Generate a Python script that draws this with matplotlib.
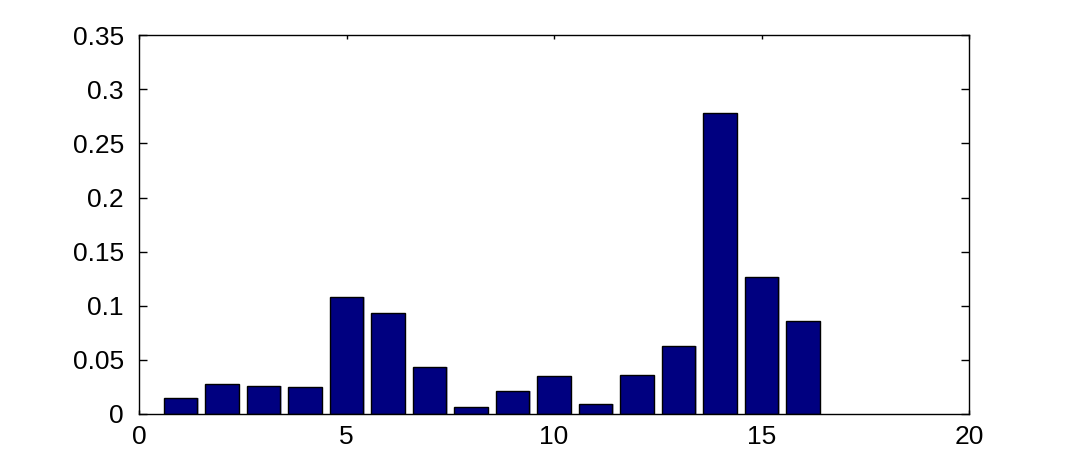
import matplotlib
matplotlib.use("Agg")
import matplotlib.pyplot as plt
import numpy as np

# data
x = np.arange(1, 17)
vals = [0.0148, 0.0275, 0.0256, 0.0247, 0.108, 0.0931, 0.0432, 0.0065,
        0.0213, 0.0349, 0.009, 0.0358, 0.0626, 0.278, 0.1264, 0.086]
xticks = [0, 5, 10, 15, 20]
yticks = [0, 0.05, 0.1, 0.15, 0.2, 0.25, 0.3, 0.35]
ytick_labels = ['0', '0.05', '0.1', '0.15', '0.2', '0.25', '0.3', '0.35']

plt.rcParams['font.family'] = ['Liberation Sans', 'DejaVu Sans']

fig = plt.figure(figsize=(10.72, 4.66), dpi=100)
ax = fig.add_axes([0.1297, 0.1116, 0.7743, 0.8127])

# faint shadow like the matlab export, then the bars
ax.bar(x + 0.04, vals, width=0.8, color='#b8b8d8', linewidth=0, zorder=1)
ax.bar(x, vals, width=0.8, color='#000080', edgecolor='black', linewidth=1.0, zorder=2)

ax.set_xlim(0, 20)
ax.set_ylim(0, 0.35)
ax.set_xticks(xticks)
ax.set_xticklabels([str(t) for t in xticks])
ax.set_yticks(yticks)
ax.set_yticklabels(ytick_labels)
ax.tick_params(direction='in', top=True, right=True, width=1,
               labelsize=19, colors='black')
ax.tick_params(axis='y', length=6, pad=11)
ax.tick_params(axis='x', length=3, pad=8)
for s in ax.spines.values():
    s.set_linewidth(1.0)

fig.savefig('out.png', dpi=100)
